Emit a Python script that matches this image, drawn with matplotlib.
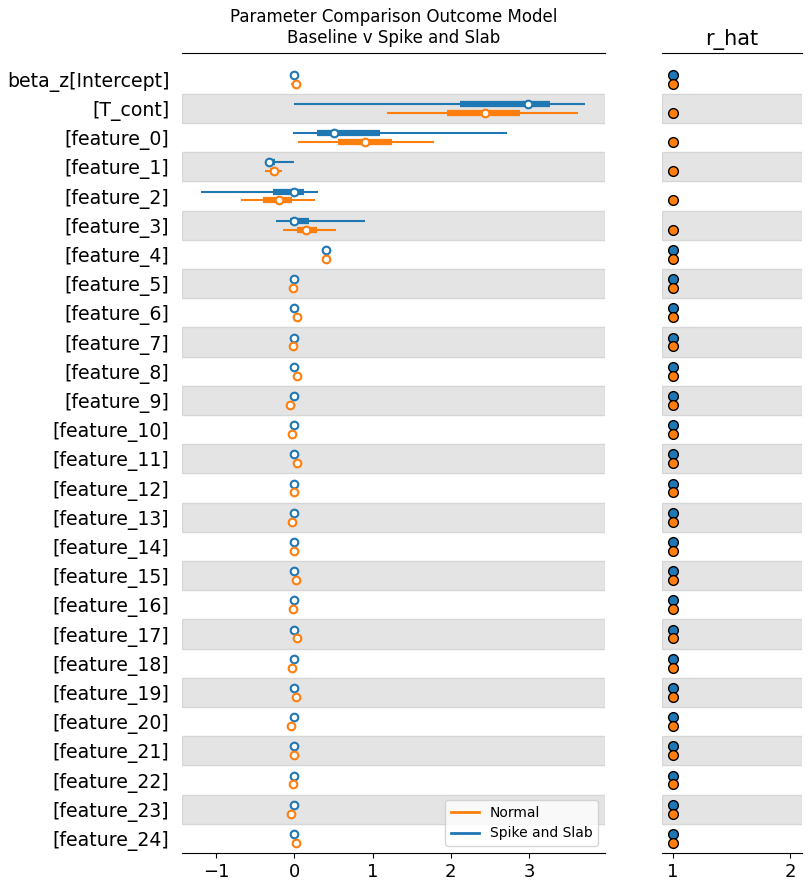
import numpy as np
import matplotlib.pyplot as plt

labels = ["beta_z[Intercept]", "[T_cont]"] + ["[feature_%d]" % i for i in range(25)]

# Spike and Slab: median, hdi 94% (lo, hi), iqr-ish (lo, hi)
ss_med = [0.00, 2.99, 0.51, -0.32, 0.00, 0.00, 0.40] + [0.0] * 20
ss_lo = [0.00, 0.00, -0.01, -0.35, -1.19, -0.23, 0.40] + [0.0] * 20
ss_hi = [0.00, 3.71, 2.72, 0.00, 0.30, 0.90, 0.40] + [0.0] * 20
ss_qlo = [0.00, 2.12, 0.29, -0.35, -0.27, -0.06, 0.40] + [0.0] * 20
ss_qhi = [0.00, 3.27, 1.10, -0.24, 0.12, 0.19, 0.40] + [0.0] * 20

# Normal
n_med = [0.02, 2.44, 0.90, -0.26, -0.20, 0.15, 0.41,
         -0.01, 0.04, -0.01, 0.04, -0.05, -0.03, 0.03, 0.00, -0.03, 0.00,
         0.02, -0.01, 0.03, -0.03, 0.02, -0.04, 0.00, -0.01, -0.04, 0.02]
n_lo = [-0.04, 1.19, 0.05, -0.37, -0.68, -0.15, 0.35,
        -0.07, 0.01, -0.05, 0.01, -0.09, -0.07, 0.00, -0.03, -0.07, -0.03,
        -0.02, -0.06, -0.01, -0.07, -0.02, -0.09, -0.04, -0.05, -0.09, -0.02]
n_hi = [0.07, 3.62, 1.78, -0.16, 0.26, 0.53, 0.42,
        0.01, 0.07, 0.02, 0.07, -0.02, 0.00, 0.07, 0.03, 0.00, 0.03,
        0.05, 0.02, 0.07, 0.00, 0.07, -0.01, 0.03, 0.02, -0.01, 0.05]
n_qlo = [0.00, 1.95, 0.56, -0.31, -0.40, 0.03, 0.39,
         -0.03, 0.03, -0.03, 0.03, -0.07, -0.05, 0.02, -0.01, -0.05, -0.01,
         0.00, -0.03, 0.01, -0.05, 0.00, -0.06, -0.02, -0.03, -0.06, 0.00]
n_qhi = [0.04, 2.89, 1.25, -0.21, -0.03, 0.29, 0.41,
         0.00, 0.05, 0.00, 0.05, -0.04, -0.02, 0.05, 0.01, -0.02, 0.01,
         0.03, 0.00, 0.05, -0.02, 0.04, -0.03, 0.01, 0.00, -0.03, 0.03]

ss_rhat = [1.0, np.nan, np.nan, np.nan, np.nan, np.nan] + [1.0] * 21
n_rhat = [1.0] * 27

blue = "#1f77b4"
orange = "#ff7f0e"
n = len(labels)
ys = np.arange(n)[::-1]

fig = plt.figure(figsize=(8.12, 8.93), dpi=100)
ax = fig.add_axes([182 / 812, 1 - 853 / 893, 423 / 812, 800 / 893])
ax2 = fig.add_axes([662 / 812, 1 - 853 / 893, 140 / 812, 800 / 893])

for a in (ax, ax2):
    for i, y in enumerate(ys):
        if i % 2 == 1:
            a.axhspan(y - 0.5, y + 0.5, facecolor="#e4e4e4", edgecolor="#d6d6d6", lw=1, zorder=0)
    a.set_ylim(-0.5, n - 0.1)
    for s in ("left", "right"):
        a.spines[s].set_visible(False)
    a.tick_params(axis="x", labelsize=13)

off = 0.15
for med, lo, hi, qlo, qhi, c, dy in [
    (ss_med, ss_lo, ss_hi, ss_qlo, ss_qhi, blue, off),
    (n_med, n_lo, n_hi, n_qlo, n_qhi, orange, -off),
]:
    for i, y in enumerate(ys):
        ax.plot([lo[i], hi[i]], [y + dy, y + dy], color=c, lw=1.5, solid_capstyle="butt", zorder=2)
        ax.plot([qlo[i], qhi[i]], [y + dy, y + dy], color=c, lw=4.5, solid_capstyle="butt", zorder=3)
        ax.plot(med[i], y + dy, "o", mfc="white", mec=c, ms=5.5, mew=1.5, zorder=4)

ax.plot([], [], color=orange, lw=2, label="Normal")
ax.plot([], [], color=blue, lw=2, label="Spike and Slab")
ax.legend(loc="lower right", fontsize=10)

ax.set_xlim(-1.434, 3.97)
ax.set_xticks([-1, 0, 1, 2, 3])
ax.set_yticks(ys)
ax.set_yticklabels(labels, fontsize=13.6)
ax.tick_params(axis="y", length=0, pad=9)
ax.set_title("Parameter Comparison Outcome Model\nBaseline v Spike and Slab", fontsize=12, pad=7)

ax2.plot(ss_rhat, ys + off, "o", color=blue, mec="black", ms=7, mew=1, zorder=3)
ax2.plot(n_rhat, ys - off, "o", color=orange, mec="black", ms=7, mew=1, zorder=3)
ax2.set_xlim(0.906, 2.10)
ax2.set_xticks([1, 2])
ax2.set_yticks([])
ax2.set_title("r_hat", fontsize=15)

fig.savefig("out.png", dpi=100)
